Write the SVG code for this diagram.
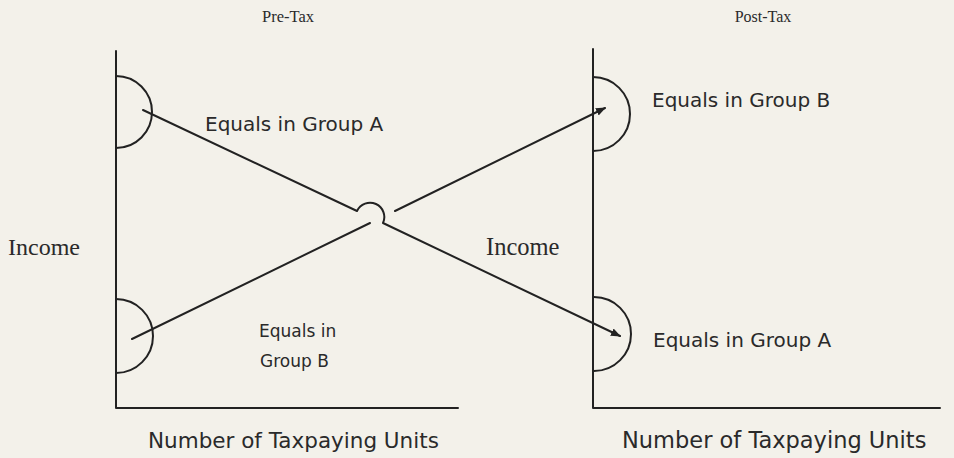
<svg xmlns="http://www.w3.org/2000/svg" width="954" height="458" viewBox="0 0 954 458">
<style>
.ln{fill:none;stroke:#222;stroke-width:2;stroke-linecap:round;stroke-linejoin:round}
.serif{font-family:"Liberation Serif","Times New Roman",serif;fill:#2a2a2a}
.sans{font-family:"DejaVu Sans","Liberation Sans",sans-serif;fill:#2a2a2a}
</style>
<defs>
<marker id="arr" viewBox="0 0 10 10" refX="9" refY="5" markerWidth="10" markerHeight="10" markerUnits="userSpaceOnUse" orient="auto">
<path d="M0,1 L10,5 L0,9 Z" fill="#222"/>
</marker>
</defs>
<rect width="954" height="458" fill="#f3f1ea"/>
<g id="pre-tax-chart">
<path class="ln" d="M116,51 L116,408 L458,408"/>
<text class="serif" x="288" y="22" font-size="16.5" text-anchor="middle">Pre-Tax</text>
<text class="serif" x="8" y="255" font-size="24">Income</text>
<text class="sans" x="148" y="448" font-size="21.5">Number of Taxpaying Units</text>
</g>
<g id="post-tax-chart">
<path class="ln" d="M593,49 L593,408 L940,408"/>
<text class="serif" x="763" y="22" font-size="16" text-anchor="middle">Post-Tax</text>
<text class="serif" x="486" y="255" font-size="24.5">Income</text>
<text class="sans" x="622" y="448" font-size="22.5">Number of Taxpaying Units</text>
</g>
<g id="pre-group-a">
<path class="ln" d="M116,76 A36,36 0 0 1 116,148"/>
<text class="sans" x="205" y="131" font-size="20">Equals in Group A</text>
</g>
<g id="pre-group-b">
<path class="ln" d="M116,299 A37,37 0 0 1 116,373"/>
<text class="sans" x="259" y="337" font-size="17">Equals in</text>
<text class="sans" x="260" y="367" font-size="17">Group B</text>
</g>
<g id="post-group-b">
<path class="ln" d="M593,77 A37,37 0 0 1 593,151"/>
<text class="sans" x="652" y="107" font-size="20">Equals in Group B</text>
</g>
<g id="post-group-a">
<path class="ln" d="M594,297 A37,37 0 0 1 594,371"/>
<text class="sans" x="653" y="347" font-size="20">Equals in Group A</text>
</g>
<g id="connectors">
<path class="ln" d="M143,110 L357,211 A14,14 0 0 1 383,223 L620,336" marker-end="url(#arr)"/>
<path class="ln" d="M132,339 L370,223"/>
<path class="ln" d="M395,211 L605,108" marker-end="url(#arr)"/>
</g>
</svg>
